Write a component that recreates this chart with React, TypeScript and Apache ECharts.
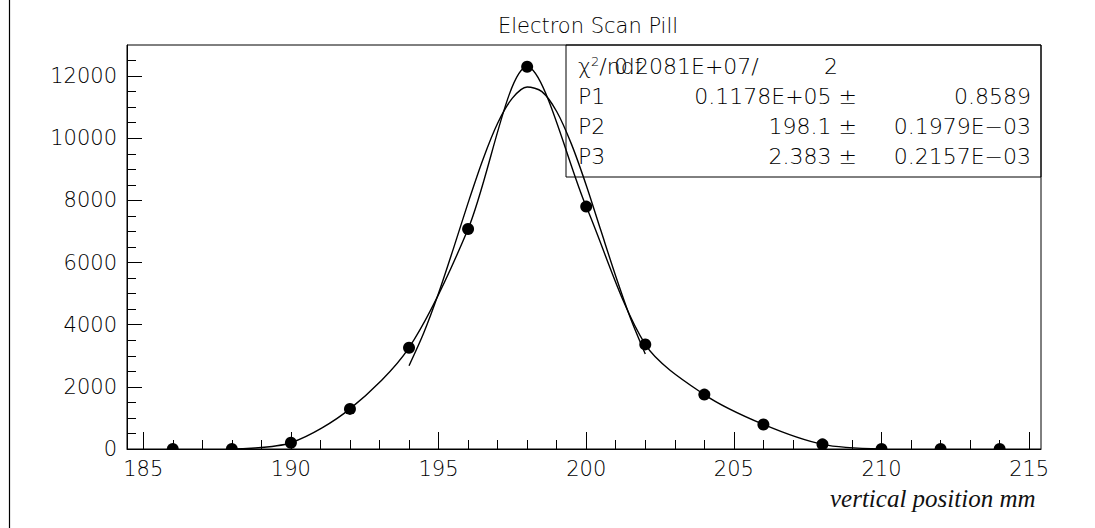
import React, { useEffect, useRef } from "react";
import * as echarts from "echarts";

// ---- data ----
const xPoints = [186, 188, 190, 192, 194, 196, 198, 200, 202, 204, 206, 208, 210, 212, 214];
const yPoints = [0, 0, 200, 1290, 3260, 7080, 12300, 7800, 3365, 1750, 790, 150, 0, 0, 0];

// smooth curve drawn through the points (from 188 to 210)
const curveFrom = 188;
const curveTo = 210;

// Gaussian fit curve as drawn (194 .. 202)
const fitX = [194, 194.5, 195, 195.5, 196, 196.5, 197, 197.5, 198, 198.5, 199, 199.5, 200, 200.5, 201, 201.5, 202];
const fitY = [2680, 3740, 5010, 6440, 7920, 9310, 10480, 11290, 11650, 11500, 10860, 9810, 8490, 7020, 5560, 4210, 3060];

const xMajorTicks = [185, 190, 195, 200, 205, 210, 215];
const xMinorTicks = [186, 187, 188, 189, 191, 192, 193, 194, 196, 197, 198, 199, 201, 202, 203, 204, 206, 207, 208, 209, 211, 212, 213, 214];
const yMajorTicks = [0, 2000, 4000, 6000, 8000, 10000, 12000];
const yMinorTicks = [500, 1000, 1500, 2500, 3000, 3500, 4500, 5000, 5500, 6500, 7000, 7500, 8500, 9000, 9500, 10500, 11000, 11500, 12500];

const title = "Electron Scan Pill";
const xTitle = "vertical position mm";
const statNames = ["P1", "P2", "P3"];
const statValues = ["0.1178E+05 \u00b1", "198.1 \u00b1", "2.383 \u00b1"];
const statErrors = ["0.8589", "0.1979E\u221203", "0.2157E\u221203"];
const chiValue = "0.2081E+07/";
const ndfValue = "2";

const FAMILY = "'DejaVu Sans', sans-serif";
const W = 200;

export default function App() {
  const ref = useRef<HTMLDivElement>(null);
  useEffect(() => {
    if (!ref.current) return;
    const chart = echarts.init(ref.current, null, { renderer: "svg" });
    const gl = 127, gt = 45, gw = 914, gh = 404;
    const scatterData = xPoints.map((x, i) => [x, yPoints[i]]);
    const curveData = xPoints
      .map((x, i) => [x, yPoints[i]])
      .filter((d) => d[0] >= curveFrom && d[0] <= curveTo);
    const fitData = fitX.map((x, i) => [x, fitY[i]]);
    const statFont = `${W} 22px ${FAMILY}`;

    const rowY = [96, 126, 156];
    const statGraphics: any[] = [];
    statNames.forEach((n, i) => {
      statGraphics.push({
        type: "text", x: 578, y: rowY[i], z: 50,
        style: { text: n, font: statFont, fill: "#000", textVerticalAlign: "middle", textAlign: "left" },
      });
      statGraphics.push({
        type: "text", x: 857, y: rowY[i], z: 50,
        style: { text: statValues[i], font: statFont, fill: "#000", textVerticalAlign: "middle", textAlign: "right" },
      });
      statGraphics.push({
        type: "text", x: 1031, y: rowY[i], z: 50,
        style: { text: statErrors[i], font: statFont, fill: "#000", textVerticalAlign: "middle", textAlign: "right" },
      });
    });

    chart.setOption({
      animation: false,
      backgroundColor: "#fff",
      title: {
        text: title,
        left: 583,
        top: 10,
        textAlign: "center",
        textStyle: { fontFamily: "DejaVu Sans", fontSize: 21, fontWeight: W, color: "#000" },
      },
      grid: { left: gl, top: gt, width: gw, height: gh, show: true, borderColor: "#000", borderWidth: 1, backgroundColor: "transparent" },
      xAxis: [
        {
          type: "value", min: 184.45, max: 215.4, position: "bottom",
          axisLine: { show: true, onZero: false, lineStyle: { color: "#000", width: 1 } },
          axisTick: { show: true, inside: true, length: 17, customValues: xMajorTicks, lineStyle: { color: "#000" } },
          axisLabel: { show: true, customValues: xMajorTicks, margin: 9, fontFamily: "DejaVu Sans", fontSize: 21, fontWeight: W, color: "#000" },
          splitLine: { show: false },
        },
        {
          type: "value", min: 184.45, max: 215.4, position: "bottom", offset: 0,
          axisLine: { show: false },
          axisTick: { show: true, inside: true, length: 9, customValues: xMinorTicks, lineStyle: { color: "#000" } },
          axisLabel: { show: false },
          splitLine: { show: false },
        },
      ],
      yAxis: [
        {
          type: "value", min: 0, max: 13000, position: "left",
          axisLine: { show: true, onZero: false, lineStyle: { color: "#000", width: 1 } },
          axisTick: { show: true, inside: true, length: 15, customValues: yMajorTicks, lineStyle: { color: "#000" } },
          axisLabel: {
            show: true, customValues: yMajorTicks, margin: 10, fontFamily: "DejaVu Sans", fontSize: 21, fontWeight: W, color: "#000",
            formatter: (v: number) => String(v),
          },
          splitLine: { show: false },
        },
        {
          type: "value", min: 0, max: 13000, position: "left", offset: 0,
          axisLine: { show: false },
          axisTick: { show: true, inside: true, length: 9, customValues: yMinorTicks, lineStyle: { color: "#000" } },
          axisLabel: { show: false },
          splitLine: { show: false },
        },
      ],
      series: [
        {
          type: "line", data: curveData, smooth: 0.3, showSymbol: false, symbol: "none",
          lineStyle: { color: "#000", width: 1.4 }, xAxisIndex: 0, yAxisIndex: 0, z: 3,
        },
        {
          type: "line", data: fitData, smooth: 0.3, showSymbol: false, symbol: "none",
          lineStyle: { color: "#000", width: 1.4 }, xAxisIndex: 0, yAxisIndex: 0, z: 3,
        },
        {
          type: "custom", data: scatterData, xAxisIndex: 0, yAxisIndex: 0, z: 4, clip: true,
          encode: { x: 0, y: 1 },
          renderItem: (params: any, api: any) => {
            const p = api.coord([api.value(0), api.value(1)]);
            const cs = params.coordSys;
            const bottom = cs.y + cs.height;
            const r = 6;
            if (p[1] >= bottom - 0.5) {
              // marker sitting on the frame: only the part inside the frame is visible
              return {
                type: "sector",
                shape: { cx: p[0], cy: bottom, r0: 0, r, startAngle: Math.PI, endAngle: 2 * Math.PI, clockwise: true },
                style: { fill: "#000" },
              };
            }
            return { type: "circle", shape: { cx: p[0], cy: p[1], r }, style: { fill: "#000" } };
          },
        },
      ],
      graphic: [
        // page border on the left
        { type: "line", z: 100, shape: { x1: 9.5, y1: 0, x2: 9.5, y2: 528 }, style: { stroke: "#000", lineWidth: 1.2 } },
        // statistics box
        { type: "rect", z: 50, shape: { x: 566, y: 45, width: 475, height: 132 }, style: { fill: "none", stroke: "#000", lineWidth: 1 } },
        {
          type: "text", x: 578, y: 66, z: 50,
          style: {
            text: "{c|\u03c7}{s|2}{c|/ndf}",
            textVerticalAlign: "middle",
            rich: {
              c: { font: statFont, fill: "#000" },
              s: { font: `${W} 13px ${FAMILY}`, fill: "#000", verticalAlign: "top", padding: [0, 0, 8, 0] },
            },
          },
        },
        { type: "text", x: 614, y: 66, z: 50, style: { text: chiValue, font: statFont, fill: "#000", textVerticalAlign: "middle" } },
        { type: "text", x: 824, y: 66, z: 50, style: { text: ndfValue, font: statFont, fill: "#000", textVerticalAlign: "middle" } },
        ...statGraphics,
        // handwritten axis title
        { type: "text", x: 830, y: 498, z: 50, style: { text: xTitle, font: `italic 25px "Liberation Serif", serif`, fill: "#111", textVerticalAlign: "middle" } },
      ],
    });
    return () => chart.dispose();
  }, []);
  return <div ref={ref} style={{ position: "fixed", left: 0, top: 0, width: 1095, height: 528 }} />;
}
